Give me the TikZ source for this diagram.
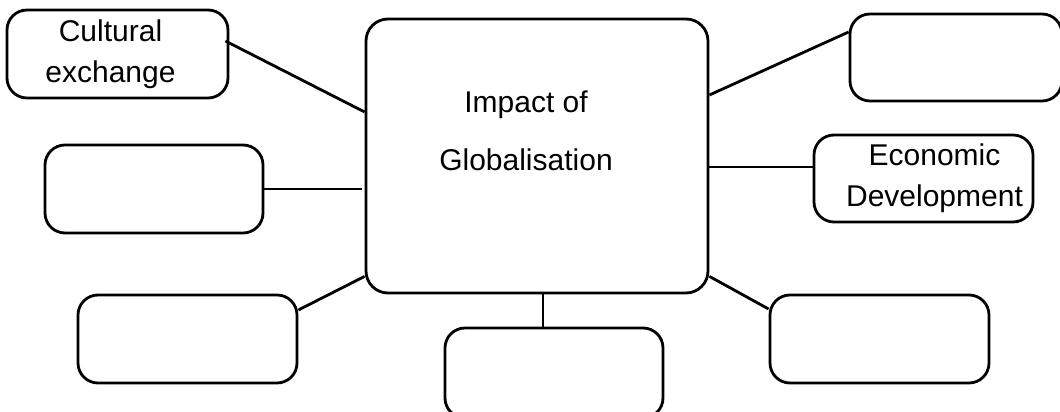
\documentclass[tikz,border=0pt]{standalone}
\usepackage{fontspec}
\setmainfont{Liberation Sans}
\usetikzlibrary{positioning}

\begin{document}
\begin{tikzpicture}[x=0.5pt,y=0.5pt]
\tikzstyle{every node}+=[inner sep=0pt]
\tikzstyle{box}=[draw=black, line width=1.4pt, rounded corners=10pt, minimum width=109.5pt, minimum height=44pt, align=center, font=\fontsize{15pt}{20.5pt}\selectfont]
\tikzstyle{hub}=[box, rounded corners=11pt, minimum width=171pt, minimum height=137pt]
\tikzstyle{link}=[draw=black, line width=1.4pt]
\useasboundingbox (0,0) rectangle (1060,412);
\node [hub] (impact) at (537,256) {};
\node [align=center, font=\fontsize{15pt}{29pt}\selectfont] (impacttext) at ([xshift=-5.5pt,yshift=12.5pt]impact.center) {Impact of\\Globalisation};
\node [box, minimum width=110.5pt] (cult) at (117.5,358) {Cultural\hspace*{7pt}\\exchange\hspace*{7pt}};
\node [box, minimum width=106pt, minimum height=43.5pt] (topright) at (956,354.5) {};
\node [box, minimum width=109pt] (leftmid) at (154,223) {};
\node [box, minimum height=43.5pt] (econ) at (923.5,233.5) {\hspace*{11pt}Economic\\\hspace*{11pt}Development};
\node [box] (botleft) at (187.5,73) {};
\node [box, minimum width=109pt, minimum height=45pt] (botmid) at (554,39) {};
\node [box] (botright) at (879.5,73) {};
\draw [link] ([xshift=-2pt,yshift=6.5pt]cult.east) -- ([yshift=22pt]impact.west);
\draw [link] ([yshift=30.5pt]impact.east) -- ([yshift=12.75pt]topright.west);
\draw [link] (leftmid.east) -- ([xshift=-1.5pt]leftmid.east -| impact.west);
\draw [link] ([yshift=5.75pt]econ.west) -- ([yshift=5.75pt]econ.west -| impact.east);
\draw [link] ([yshift=14.5pt]botleft.east) -- ([yshift=9pt]impact.south west);
\draw [link] ([xshift=3pt]impact.south) -- ([xshift=3pt]impact.south |- botmid.north);
\draw [link] ([yshift=9pt]impact.south east) -- ([yshift=15pt]botright.west);
\end{tikzpicture}
\end{document}
